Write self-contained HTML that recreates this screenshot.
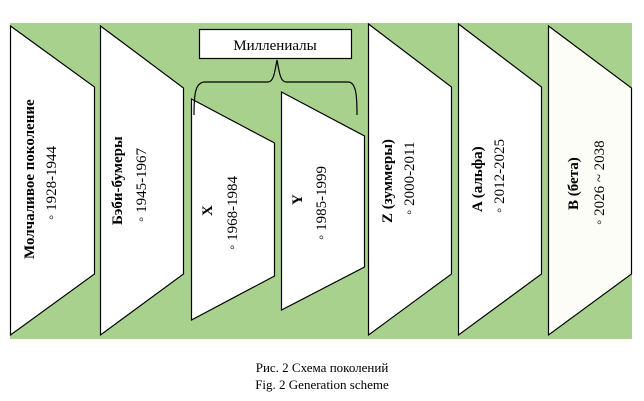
<!DOCTYPE html>
<html><head><meta charset="utf-8"><style>
html,body{margin:0;padding:0;background:#fff;width:644px;height:401px;overflow:hidden}
svg{display:block}
text{font-family:"Liberation Serif",serif;font-size:15px;fill:#000}
</style></head><body>
<svg width="644" height="401" viewBox="0 0 644 401">
<rect x="10" y="23" width="622" height="316" fill="#a9d18e"/>
<g stroke="#000" stroke-width="1.2" fill="#fff">
<polygon points="10.5,26 94.5,87 94.5,274 10.5,335"/>
<polygon points="100.5,26 183.5,88 183.5,274 100.5,335"/>
<polygon points="191.5,99 274.5,143 274.5,276 191.5,320"/>
<polygon points="281.5,92 364.5,136 364.5,267 281.5,310"/>
<polygon points="368.5,24 451.5,87 451.5,274 368.5,335"/>
<polygon points="458.5,24 541.5,87 541.5,274 458.5,335"/>
<polygon points="548.5,26 631.5,88 631.5,274 548.5,335" fill="#fdfdf8"/>
<rect x="199.5" y="29.5" width="152" height="29"/>
<path d="M194,115 C194,95 195,82 205,82 L268,82 C274,82 275,70 277,60 C279,70 280,82 286,82 L348,82 C356,82 357,95 357,115" fill="none"/>
</g>
<text x="275" y="50" text-anchor="middle">Миллениалы</text>
<g font-weight="bold">
<text transform="translate(34,259) rotate(-90)" font-weight="bold">Молчаливое поколение</text>
<text transform="translate(122,225) rotate(-90)" font-weight="bold">Бэби-бумеры</text>
<text transform="translate(212,216) rotate(-90)" font-weight="bold">X</text>
<text transform="translate(302,205) rotate(-90)" font-weight="bold">Y</text>
<text transform="translate(392,223) rotate(-90)" font-weight="bold">Z (зуммеры)</text>
<text transform="translate(482,212) rotate(-90)" font-weight="bold">A (альфа)</text>
<text transform="translate(578,210) rotate(-90)" font-weight="bold">B (бета)</text>
</g>
<text transform="translate(56,220) rotate(-90)">◦ 1928-1944</text>
<text transform="translate(146,222) rotate(-90)">◦ 1945-1967</text>
<text transform="translate(237,250) rotate(-90)">◦ 1968-1984</text>
<text transform="translate(326,240) rotate(-90)">◦ 1985-1999</text>
<text transform="translate(414,215) rotate(-90)">◦ 2000-2011</text>
<text transform="translate(504,213) rotate(-90)">◦ 2012-2025</text>
<text transform="translate(604,225) rotate(-90)">◦ 2026 ~ 2038</text>
<text x="322" y="372" text-anchor="middle" style="font-size:13px">Рис. 2 Схема поколений</text>
<text x="322" y="389" text-anchor="middle" style="font-size:13px">Fig. 2 Generation scheme</text>
</svg>
</body></html>
